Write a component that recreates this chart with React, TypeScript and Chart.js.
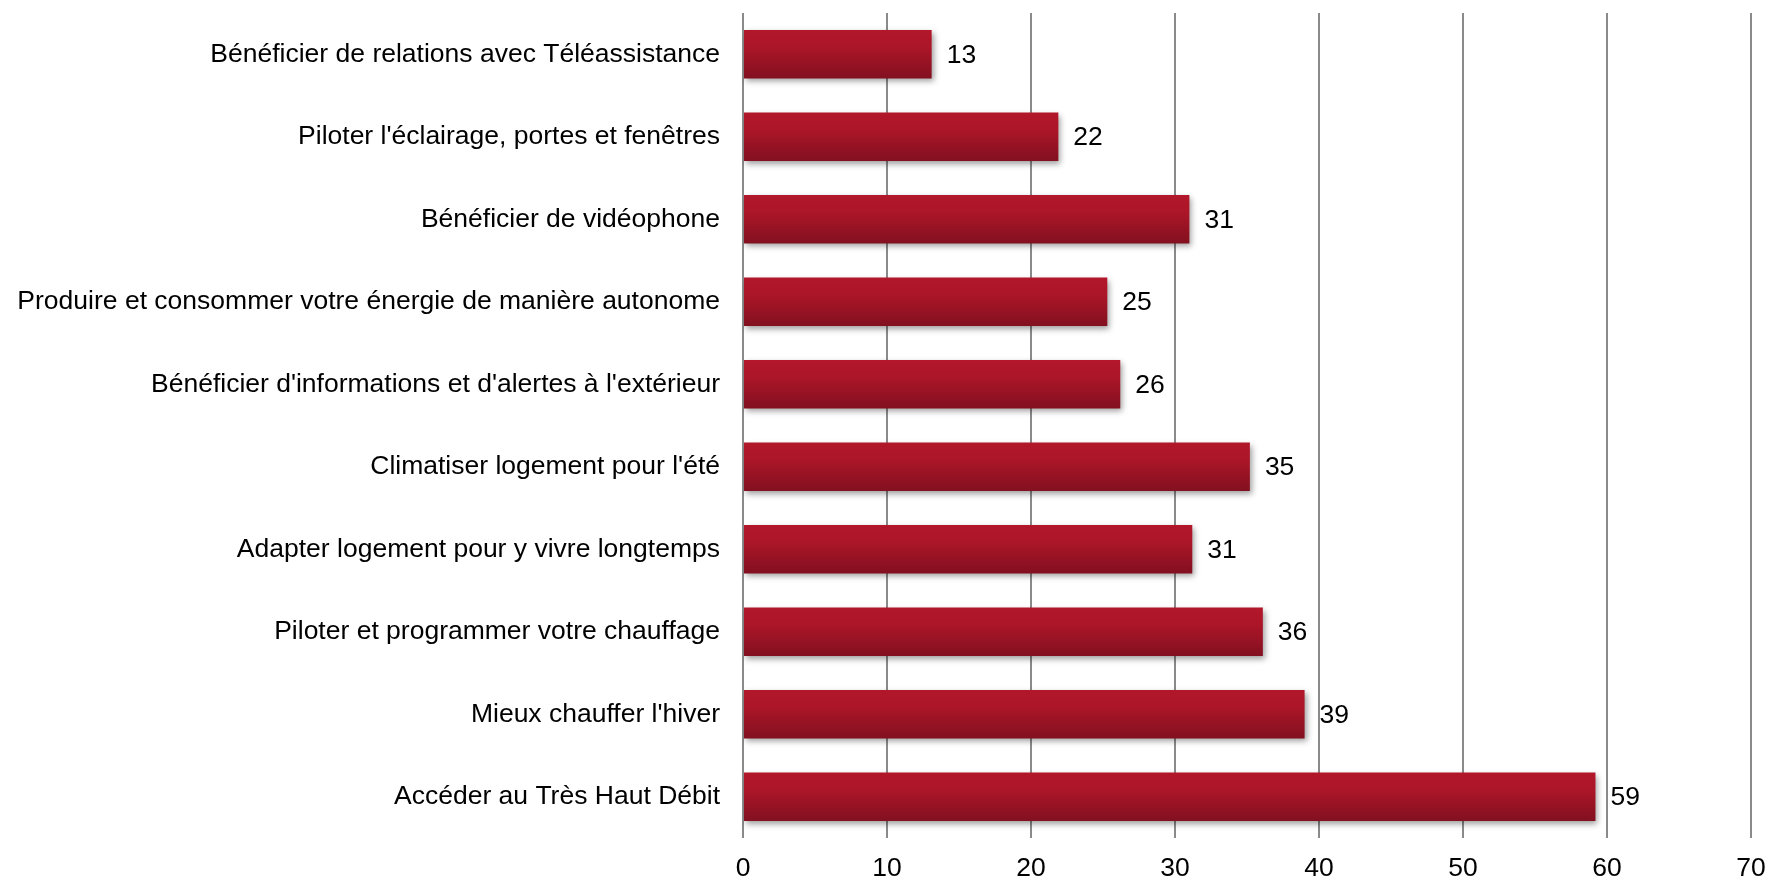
import React, { useEffect, useRef } from "react";
import { Chart, registerables } from "chart.js";

Chart.register(...registerables);

const categories: string[] = [
  "Bénéficier de relations avec Téléassistance",
  "Piloter l'éclairage, portes et fenêtres",
  "Bénéficier de vidéophone",
  "Produire et consommer votre énergie de manière autonome",
  "Bénéficier d'informations et d'alertes à l'extérieur",
  "Climatiser logement pour l'été",
  "Adapter logement pour y vivre longtemps",
  "Piloter et programmer votre chauffage",
  "Mieux chauffer l'hiver",
  "Accéder au Très Haut Débit",
];

const values: number[] = [13.1, 21.9, 31.0, 25.3, 26.2, 35.2, 31.2, 36.1, 39.0, 59.2];
const valueLabels: string[] = ["13", "22", "31", "25", "26", "35", "31", "36", "39", "59"];

const axisMin = 0;
const axisMax = 70;
const axisStep = 10;

const FONT_FAMILY = "'Liberation Sans', Arial, sans-serif";
const FONT_SIZE = 26.5;
const BAR_PCT = 0.585;

export default function App() {
  const ref = useRef<HTMLCanvasElement>(null);

  useEffect(() => {
    document.body.style.margin = "0";
    const canvas = ref.current;
    if (!canvas) return;

    const effectsPlugin = {
      id: "barEffects",
      beforeDatasetsDraw(chart: any) {
        const ctx = chart.ctx;
        ctx.save();
        ctx.shadowColor = "rgba(0,0,0,0.38)";
        ctx.shadowBlur = 6;
        ctx.shadowOffsetX = 2;
        ctx.shadowOffsetY = 3;
      },
      afterDatasetsDraw(chart: any) {
        const ctx = chart.ctx;
        ctx.restore();
        const meta = chart.getDatasetMeta(0);
        ctx.save();
        ctx.font = `${FONT_SIZE}px ${FONT_FAMILY}`;
        ctx.fillStyle = "#000";
        ctx.textAlign = "left";
        ctx.textBaseline = "middle";
        meta.data.forEach((bar: any, i: number) => {
          const p = bar.getProps(["x", "y"], true);
          ctx.fillText(valueLabels[i], p.x + 15, p.y + 1);
        });
        ctx.restore();
      },
    };

    const chart = new Chart(canvas, {
      type: "bar",
      data: {
        labels: categories,
        datasets: [
          {
            data: values,
            barPercentage: BAR_PCT,
            categoryPercentage: 1,
            borderWidth: 0,
            backgroundColor: (c: any) => {
              const ch = c.chart;
              const ys = ch.scales && ch.scales.y;
              if (!ys || c.dataIndex === undefined || !ys.height) return "#A01525";
              const center = ys.getPixelForValue(c.dataIndex);
              const half = ((ys.height / categories.length) * BAR_PCT) / 2;
              const g = ch.ctx.createLinearGradient(0, center - half, 0, center + half);
              g.addColorStop(0, "#B2172A");
              g.addColorStop(0.35, "#AC1628");
              g.addColorStop(1, "#821020");
              return g;
            },
          },
        ],
      },
      options: {
        indexAxis: "y",
        responsive: false,
        animation: false,
        events: [],
        layout: { padding: { top: 13, right: 18, left: 0, bottom: 0 } },
        plugins: {
          legend: { display: false },
          tooltip: { enabled: false },
          title: { display: false },
        },
        scales: {
          x: {
            type: "linear",
            min: axisMin,
            max: axisMax,
            ticks: {
              stepSize: axisStep,
              color: "#000",
              font: { family: FONT_FAMILY, size: FONT_SIZE },
              padding: 15,
            },
            grid: { color: "#8a8a8a", lineWidth: 2, drawTicks: false },
            border: { display: false },
            afterFit: (s: any) => {
              s.height = 44;
              s.paddingLeft = 0;
              s.paddingRight = 0;
            },
          },
          y: {
            type: "category",
            ticks: {
              color: "#000",
              font: { family: FONT_FAMILY, size: FONT_SIZE },
              padding: 23,
              autoSkip: false,
            },
            grid: { display: false, drawTicks: false },
            border: { display: false },
            afterFit: (s: any) => {
              s.width = 743;
              s.paddingTop = 0;
              s.paddingBottom = 0;
            },
          },
        },
      } as any,
      plugins: [effectsPlugin],
    });

    return () => chart.destroy();
  }, []);

  return (
    <div style={{ width: 1769, height: 882, position: "relative" }}>
      <canvas ref={ref} width={1769} height={882} style={{ display: "block" }} />
    </div>
  );
}
